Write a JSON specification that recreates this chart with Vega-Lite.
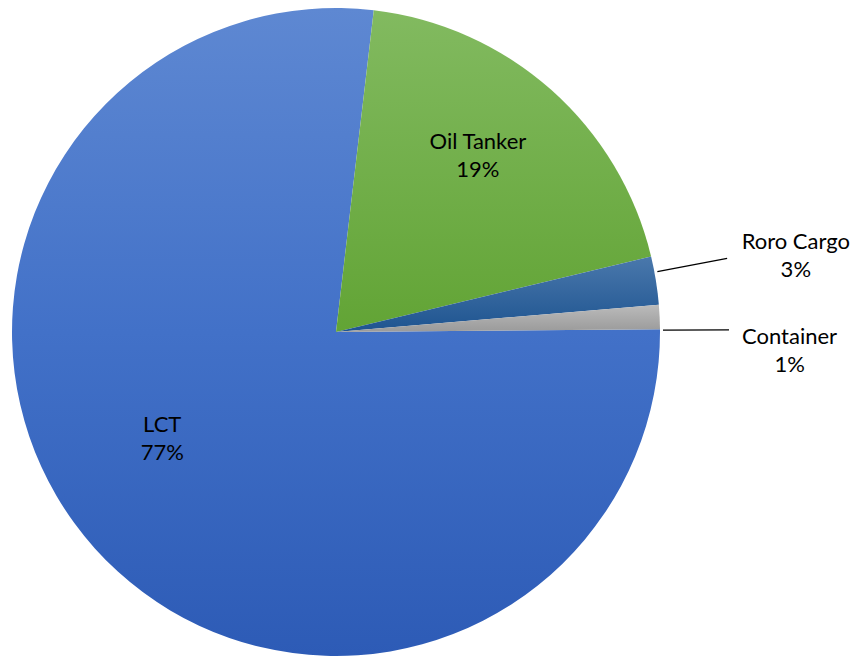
{
  "$schema": "https://vega.github.io/schema/vega-lite/v6.json",
  "width": 672,
  "height": 650,
  "autosize": {"type": "none"},
  "padding": {"left": 0, "top": 7, "right": 185, "bottom": 0},
  "background": "#ffffff",
  "config": {"view": {"stroke": null}},
  "data": {
    "values": [
      {"cat": "Oil Tanker", "value": 19.4, "order": 1, "label": "Oil Tanker\n19%"},
      {"cat": "Roro Cargo", "value": 2.4, "order": 2, "label": "Roro Cargo\n3%"},
      {"cat": "Container", "value": 1.2, "order": 3, "label": "Container\n1%"},
      {"cat": "LCT", "value": 77.0, "order": 4, "label": "LCT\n77%"}
    ]
  },
  "transform": [
    {"stack": "value", "groupby": [], "sort": [{"field": "order", "order": "ascending"}], "as": ["v0", "v1"]}
  ],
  "layer": [
    {
      "transform": [{"filter": "datum.cat === 'LCT'"}],
      "mark": {"type": "arc", "radius": 324, "fill": {"gradient": "linear", "x1": 0, "y1": 0, "x2": 0, "y2": 1, "stops": [{"offset": 0, "color": "#5E88D2"}, {"offset": 0.5, "color": "#4271C8"}, {"offset": 1, "color": "#2D5BB6"}]}},
      "encoding": {
        "theta": {"field": "v0", "type": "quantitative", "scale": {"type": "linear", "domain": [0, 100], "range": [0.1169, 6.4001]}},
        "theta2": {"field": "v1"}
      }
    },
    {
      "transform": [{"filter": "datum.cat === 'Oil Tanker'"}],
      "mark": {"type": "arc", "radius": 324, "fill": {"gradient": "linear", "x1": 0, "y1": 0, "x2": 0, "y2": 1, "stops": [{"offset": 0, "color": "#82BA60"}, {"offset": 1, "color": "#62A435"}]}},
      "encoding": {
        "theta": {"field": "v0", "type": "quantitative", "scale": {"type": "linear", "domain": [0, 100], "range": [0.1169, 6.4001]}},
        "theta2": {"field": "v1"}
      }
    },
    {
      "transform": [{"filter": "datum.cat === 'Roro Cargo'"}],
      "mark": {"type": "arc", "radius": 324, "fill": {"gradient": "linear", "x1": 0, "y1": 0, "x2": 0, "y2": 1, "stops": [{"offset": 0, "color": "#4A78AC"}, {"offset": 1, "color": "#1E5490"}]}},
      "encoding": {
        "theta": {"field": "v0", "type": "quantitative", "scale": {"type": "linear", "domain": [0, 100], "range": [0.1169, 6.4001]}},
        "theta2": {"field": "v1"}
      }
    },
    {
      "transform": [{"filter": "datum.cat === 'Container'"}],
      "mark": {"type": "arc", "radius": 324, "fill": {"gradient": "linear", "x1": 0, "y1": 0, "x2": 0, "y2": 1, "stops": [{"offset": 0, "color": "#BBBBBB"}, {"offset": 1, "color": "#9A9A9A"}]}},
      "encoding": {
        "theta": {"field": "v0", "type": "quantitative", "scale": {"type": "linear", "domain": [0, 100], "range": [0.1169, 6.4001]}},
        "theta2": {"field": "v1"}
      }
    },
    {
      "transform": [{"filter": "datum.cat === 'Roro Cargo'"}],
      "mark": {"type": "arc", "radius": 398, "radius2": 327, "thetaOffset": 0.049, "theta2Offset": 0.049, "fill": null, "stroke": "#000000", "strokeWidth": 1.3},
      "encoding": {
        "theta": {"field": "v0", "type": "quantitative", "scale": {"type": "linear", "domain": [0, 100], "range": [0.1169, 6.4001]}},
        "theta2": {"field": "v0"}
      }
    },
    {
      "transform": [{"filter": "datum.cat === 'Container'"}],
      "mark": {"type": "arc", "radius": 393, "radius2": 327, "thetaOffset": 0.0785, "theta2Offset": 0.0785, "fill": null, "stroke": "#000000", "strokeWidth": 1.3},
      "encoding": {
        "theta": {"field": "v0", "type": "quantitative", "scale": {"type": "linear", "domain": [0, 100], "range": [0.1169, 6.4001]}},
        "theta2": {"field": "v0"}
      }
    },
    {
      "transform": [{"filter": "datum.cat === 'Oil Tanker'"}],
      "mark": {"type": "text", "radius": 226, "thetaOffset": 0.562, "align": "center", "baseline": "middle", "dy": -14, "lineBreak": "\n", "lineHeight": 28, "font": "Lato", "fontSize": 22, "color": "#000000"},
      "encoding": {
        "theta": {"field": "v0", "type": "quantitative", "stack": null, "scale": {"type": "linear", "domain": [0, 100], "range": [0.1169, 6.4001]}},
        "text": {"field": "label"}
      }
    },
    {
      "transform": [{"filter": "datum.cat === 'LCT'"}],
      "mark": {"type": "text", "radius": 204, "thetaOffset": 2.599, "align": "center", "baseline": "middle", "dy": -14, "lineBreak": "\n", "lineHeight": 28, "font": "Lato", "fontSize": 22, "color": "#000000"},
      "encoding": {
        "theta": {"field": "v0", "type": "quantitative", "stack": null, "scale": {"type": "linear", "domain": [0, 100], "range": [0.1169, 6.4001]}},
        "text": {"field": "label"}
      }
    },
    {
      "transform": [{"filter": "datum.cat === 'Roro Cargo'"}],
      "mark": {"type": "text", "radius": 466, "thetaOffset": 0.072, "align": "center", "baseline": "middle", "dy": -14, "lineBreak": "\n", "lineHeight": 28, "font": "Lato", "fontSize": 22, "color": "#000000"},
      "encoding": {
        "theta": {"field": "v0", "type": "quantitative", "stack": null, "scale": {"type": "linear", "domain": [0, 100], "range": [0.1169, 6.4001]}},
        "text": {"field": "label"}
      }
    },
    {
      "transform": [{"filter": "datum.cat === 'Container'"}],
      "mark": {"type": "text", "radius": 454, "thetaOffset": 0.127, "align": "center", "baseline": "middle", "dy": -14, "lineBreak": "\n", "lineHeight": 28, "font": "Lato", "fontSize": 22, "color": "#000000"},
      "encoding": {
        "theta": {"field": "v0", "type": "quantitative", "stack": null, "scale": {"type": "linear", "domain": [0, 100], "range": [0.1169, 6.4001]}},
        "text": {"field": "label"}
      }
    }
  ]
}
